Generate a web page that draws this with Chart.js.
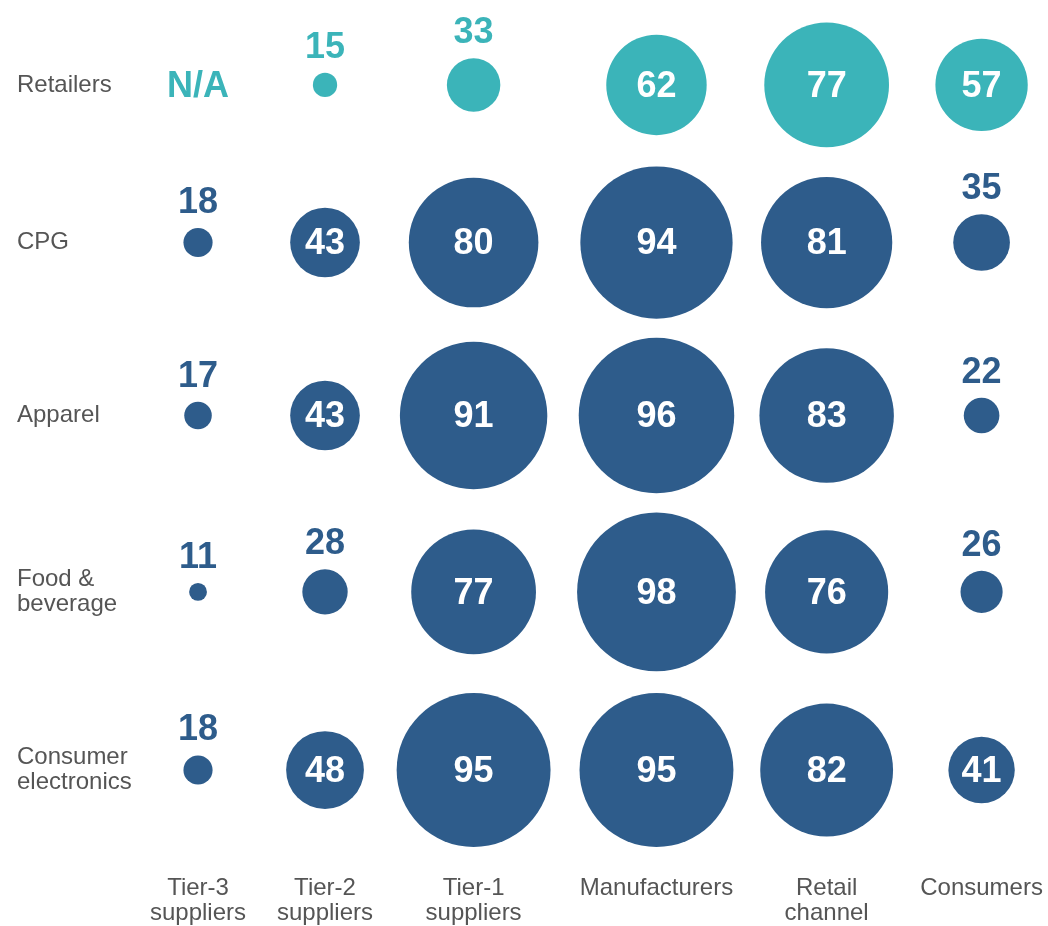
<!DOCTYPE html>
<html>
<head>
<meta charset="utf-8">
<script src="https://cdn.jsdelivr.net/npm/chart.js@4/dist/chart.umd.min.js"></script>
<style>
  html, body { margin: 0; padding: 0; background: #fff; }
  #wrap { width: 1048px; height: 926px; }
</style>
</head>
<body>
<div id="wrap"><canvas id="bubbleChart"></canvas></div>
<script>
// categories
const columns = [
  ["Tier-3", "suppliers"],
  ["Tier-2", "suppliers"],
  ["Tier-1", "suppliers"],
  "Manufacturers",
  ["Retail", "channel"],
  "Consumers",
];
const rows = [
  "Retailers",
  "CPG",
  "Apparel",
  ["Food &", "beverage"],
  ["Consumer", "electronics"],
];

// values per row (null = N/A)
const retailers = [null, 15, 33, 62, 77, 57];
const cpg = [18, 43, 80, 94, 81, 35];
const apparel = [17, 43, 91, 96, 83, 22];
const food = [11, 28, 77, 98, 76, 26];
const electronics = [18, 48, 95, 95, 82, 41];

const rowValues = [retailers, cpg, apparel, food, electronics];

// layout: where each column / row sits on its axis (uneven, like the original)
const colSlot = [0, 1, 2.17, 3.61, 4.95, 6.17];
const rowSlot = [0, 0.92, 1.93, 2.96, 4.0];
const rowColors = ["#3bb4b9", "#2e5c8b", "#2e5c8b", "#2e5c8b", "#2e5c8b"];

const radiusPerUnit = 0.81;
const numberFont = 'bold 36px "Liberation Sans", Arial, sans-serif';

const datasets = rowValues.map((vals, r) => ({
  label: Array.isArray(rows[r]) ? rows[r].join(" ") : rows[r],
  data: vals
    .map((v, c) => ({ x: colSlot[c], y: rowSlot[r], r: v * radiusPerUnit, v: v }))
    .filter((p) => p.v !== null),
  backgroundColor: rowColors[r],
  borderWidth: 0,
  hoverBorderWidth: 0,
  clip: false,
}));

// draws the numbers (inside big bubbles, above small ones) and N/A
const valueLabels = {
  id: "valueLabels",
  afterDatasetsDraw(chart) {
    const ctx = chart.ctx;
    ctx.save();
    ctx.font = numberFont;
    ctx.textAlign = "center";
    ctx.textBaseline = "middle";
    chart.data.datasets.forEach((ds, di) => {
      chart.getDatasetMeta(di).data.forEach((el, i) => {
        const v = ds.data[i].v;
        const rad = ds.data[i].r;
        if (v >= 40) {
          ctx.fillStyle = "#ffffff";
          ctx.fillText(String(v), el.x, el.y + 2);
        } else {
          ctx.fillStyle = rowColors[di];
          ctx.fillText(String(v), el.x, el.y - rad - 25);
        }
      });
    });
    // missing values
    const xs = chart.scales.x;
    const ys = chart.scales.y;
    rowValues.forEach((vals, r) => {
      vals.forEach((v, c) => {
        if (v === null) {
          ctx.fillStyle = rowColors[r];
          ctx.fillText("N/A", xs.getPixelForValue(colSlot[c]), ys.getPixelForValue(rowSlot[r]) + 2);
        }
      });
    });
    ctx.restore();
  },
};

const labelFont = { family: '"Liberation Sans", Arial, sans-serif', size: 24, lineHeight: 1.05 };

const ctx = document.getElementById("bubbleChart").getContext("2d");
const chart = new Chart(ctx, {
  type: "bubble",
  data: { datasets: datasets },
  options: {
    responsive: true,
    maintainAspectRatio: false,
    animation: false,
    events: [],
    layout: { autoPadding: false, padding: { left: 17, right: 0, top: 0, bottom: 0 } },
    plugins: {
      legend: { display: false },
      tooltip: { enabled: false },
    },
    scales: {
      x: {
        type: "linear",
        position: "bottom",
        min: -0.323,
        max: 6.693,
        grid: { display: false, drawTicks: false },
        border: { display: false },
        afterBuildTicks: (scale) => {
          scale.ticks = colSlot.map((v) => ({ value: v }));
        },
        afterFit: (scale) => {
          scale.height = 52;
          scale.paddingLeft = 0;
          scale.paddingRight = 0;
        },
        ticks: {
          autoSkip: false,
          maxRotation: 0,
          padding: 2,
          color: "#555555",
          font: labelFont,
          callback: (value, index) => columns[index],
        },
      },
      y: {
        type: "linear",
        position: "left",
        reverse: true,
        min: -0.496,
        max: 4.607,
        grid: { display: false, drawTicks: false },
        border: { display: false },
        afterBuildTicks: (scale) => {
          scale.ticks = rowSlot.map((v) => ({ value: v }));
        },
        afterFit: (scale) => {
          scale.width = 140;
          scale.paddingTop = 0;
          scale.paddingBottom = 0;
        },
        ticks: {
          autoSkip: false,
          crossAlign: "far",
          padding: 0,
          color: "#555555",
          font: labelFont,
          callback: (value, index) => rows[index],
        },
      },
    },
  },
  plugins: [valueLabels],
});
</script>
</body>
</html>
